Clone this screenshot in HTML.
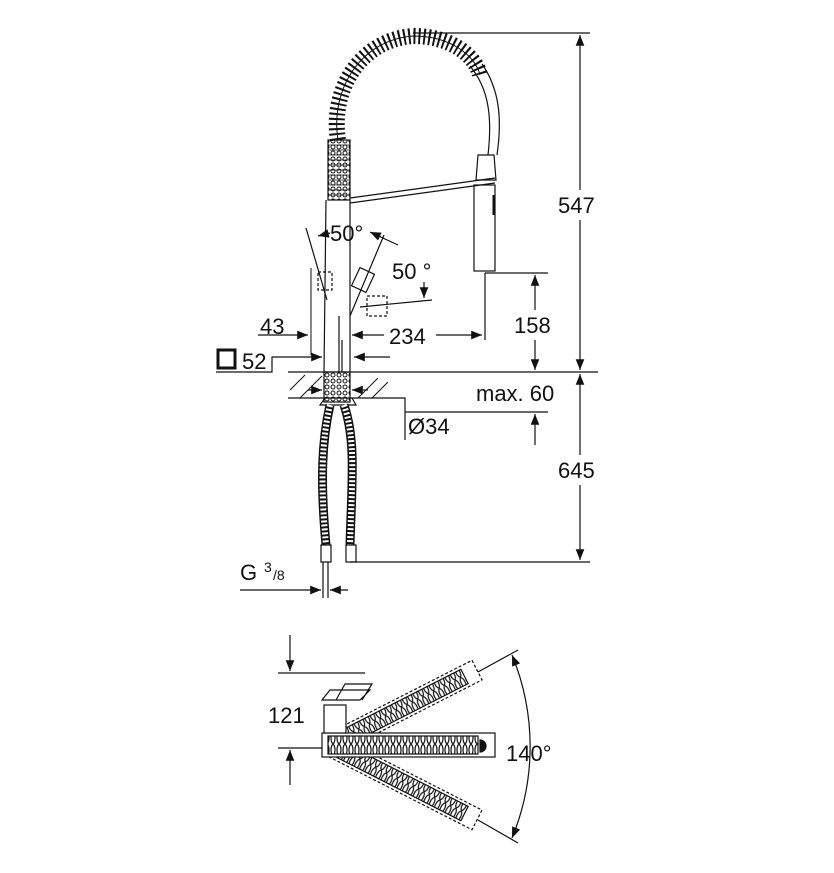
<!DOCTYPE html>
<html><head><style>
body{margin:0;background:#fff}
svg{display:block}
text{font-family:"Liberation Sans",sans-serif;fill:#111}
</style></head><body>
<svg width="834" height="873" viewBox="0 0 834 873" xmlns="http://www.w3.org/2000/svg" fill="none" stroke="#111" stroke-width="1.2">
<defs>
<marker id="a" viewBox="0 0 10 10" refX="10" refY="5" markerWidth="11" markerHeight="9" orient="auto-start-reverse"><path d="M0,1 L10,5 L0,9z" fill="#111" stroke="none"/></marker>
<pattern id="coil" width="6" height="12" patternUnits="userSpaceOnUse"><ellipse cx="3" cy="6" rx="2" ry="5.5" stroke="#111" stroke-width="1.2" fill="#fff"/></pattern>
<pattern id="hose" width="6" height="6" patternUnits="userSpaceOnUse"><circle cx="3" cy="3" r="2" stroke="#111" stroke-width="1"/></pattern>
</defs>
<path d="M338,140 C330,90 360,40 413,36 C450,36 475,55 480,75" stroke="#111" stroke-width="16" stroke-dasharray="2 3"/>
<path d="M338,140 C330,90 360,40 413,36 C450,36 475,55 480,75" stroke="#111" stroke-width="1"/>
<path d="M470,66 C490,90 492,120 488,155"/>
<path d="M482,64 C500,90 502,120 497,155"/>
<rect x="328" y="140" width="22" height="60" fill="url(#hose)"/>
<g stroke-width="0.8"><path d="M328,145h22M328,150h22M328,155h22M328,160h22M328,165h22M328,170h22M328,175h22M328,180h22M328,185h22M328,190h22M328,195h22"/></g>
<path d="M350,198 L495,178 M350,203 L495,183"/>
<path d="M478,155 L494,155 L496,180 L476,180z"/>
<rect x="474" y="185" width="21" height="86"/>
<path d="M494,195v20" stroke-width="3"/>
<path d="M326,200 L324,372 M350,200 L350,372 M339,316 V372 M342,340V372"/>
<path d="M306,228 L327,300" /><path d="M384,235 L350,316"/>
<path d="M311,268 V355" stroke-width="1"/>
<rect x="355" y="270" width="16" height="20" transform="rotate(25 363 280)" />
<path d="M360,307 L432,300" />
<rect x="367" y="296" width="20" height="20" stroke-dasharray="3 2"/>
<rect x="318" y="272" width="14" height="18" stroke-dasharray="3 2"/>
<path d="M330,233 L318,236" marker-end="url(#a)"/>
<path d="M370,232 L398,245" marker-start="url(#a)"/>
<path d="M424,282 L424,298" marker-end="url(#a)"/>
<text x="330" y="241" font-size="22" stroke="none">50°</text>
<text x="392" y="279" font-size="22" stroke="none">50 °</text>
<path d="M258,335 L308,335" marker-end="url(#a)"/>
<text x="260" y="334" font-size="22" stroke="none">43</text>
<path d="M384,335 L352,335" marker-end="url(#a)"/>
<path d="M436,335 L482,335" marker-end="url(#a)"/>
<path d="M485,273 V340"/>
<text x="389" y="344" font-size="22" stroke="none">234</text>
<rect x="218" y="350" width="17" height="18" stroke-width="3"/>
<text x="242" y="369" font-size="22" stroke="none">52</text>
<path d="M216,372 H272 V357 H322" marker-end="url(#a)"/>
<path d="M390,357 H354" marker-end="url(#a)"/>
<path d="M288,372 H598"/><path d="M288,398 H390"/>
<path d="M290,390 L305,375 M300,398 L322,376 M358,398 L378,378 M372,398 L388,382" stroke-width="1"/>
<rect x="324" y="372" width="26" height="30" fill="url(#hose)"/>
<path d="M325,398 L320,405 H356 L352,398 M390,398 H405 V440"/>
<path d="M308,390 L322,390" marker-end="url(#a)"/><path d="M368,390 L352,390" marker-end="url(#a)"/>
<path d="M330,405 C322,440 320,480 326,545 M344,405 C356,440 352,480 350,545" stroke="#111" stroke-width="9"/>
<path d="M330,405 C322,440 320,480 326,545 M344,405 C356,440 352,480 350,545" stroke="#fff" stroke-width="6" stroke-dasharray="2 2"/>
<rect x="321" y="545" width="10" height="17"/><rect x="346" y="545" width="10" height="17"/>
<path d="M323,562 V598 M328,562 V598"/>
<path d="M240,590 H321" marker-end="url(#a)"/><path d="M348,590 H330" marker-end="url(#a)"/>
<text x="240" y="580" font-size="22" stroke="none">G</text>
<text x="264" y="572" font-size="14" stroke="none">3</text>
<text x="273" y="580" font-size="14" stroke="none">/8</text>
<path d="M413,33 H590 M350,562 H590 M485,273 H548"/>
<path d="M580,190 V35" marker-end="url(#a)"/><path d="M580,220 V370" marker-end="url(#a)"/>
<text x="558" y="213" font-size="22" stroke="none">547</text>
<path d="M580,455 V374" marker-end="url(#a)"/><path d="M580,485 V560" marker-end="url(#a)"/>
<text x="558" y="478" font-size="22" stroke="none">645</text>
<path d="M535,310 V275" marker-end="url(#a)"/><path d="M535,340 V370" marker-end="url(#a)"/>
<text x="514" y="333" font-size="22" stroke="none">158</text>
<text x="476" y="401" font-size="22" stroke="none">max. 60</text>
<path d="M405,412 H548"/><path d="M535,445 V414" marker-end="url(#a)"/>
<text x="408" y="434" font-size="22" stroke="none">Ø34</text>
<path d="M278,673 H365 M278,748 H322"/>
<path d="M290,635 V671" marker-end="url(#a)"/><path d="M290,785 V750" marker-end="url(#a)"/>
<text x="268" y="723" font-size="22" stroke="none">121</text>
<g transform="rotate(-27 330 745)"><rect x="330" y="734" width="165" height="22" stroke-dasharray="3 2" fill="#fff"/><rect x="336" y="737" width="145" height="16" fill="url(#coil)"/></g>
<g transform="rotate(27 330 745)"><rect x="330" y="734" width="165" height="22" stroke-dasharray="3 2" fill="#fff"/><rect x="336" y="737" width="145" height="16" fill="url(#coil)"/></g>
<rect x="322" y="733" width="173" height="24" fill="#fff"/>
<rect x="328" y="736" width="150" height="18" fill="url(#coil)"/>
<path d="M480,740 a6,6 0 0 1 0,12z" fill="#111"/>
<rect x="324" y="705" width="22" height="28" fill="#fff"/>
<path d="M322,700 L330,690 H370 L360,700z M336,700 L345,684 H372 L362,700"/>
<path d="M478,672 L518,650 M478,820 L518,843"/>
<path d="M512,655 A240,240 0 0 1 512,838" marker-start="url(#a)" marker-end="url(#a)"/>
<text x="506" y="761" font-size="22" stroke="none">140°</text>
</svg>
</body></html>
